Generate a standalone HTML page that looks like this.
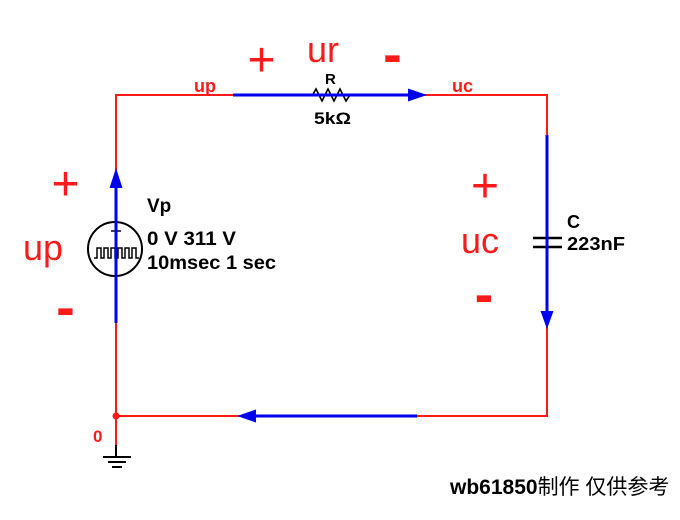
<!DOCTYPE html>
<html>
<head>
<meta charset="utf-8">
<style>
  html, body { margin:0; padding:0; background:#fff; }
  svg { display:block; }
  text { font-family: "Liberation Sans", "Noto Sans CJK SC", sans-serif; }
</style>
</head>
<body>
<svg width="680" height="520" viewBox="0 0 680 520" xmlns="http://www.w3.org/2000/svg">
  <rect width="680" height="520" fill="#fff"/>

  <!-- red circuit wires -->
  <g stroke="#ff1a1a" stroke-width="2" fill="none">
    <line x1="116" y1="95" x2="548" y2="95"/>
    <line x1="547" y1="95" x2="547" y2="417"/>
    <line x1="116" y1="416" x2="548" y2="416"/>
    <line x1="116" y1="94" x2="116" y2="446"/>
  </g>
  <circle cx="116" cy="416" r="3.5" fill="#ff1a1a"/>

  <!-- ground -->
  <g stroke="#000" stroke-width="2">
    <line x1="116" y1="445" x2="116" y2="457"/>
    <line x1="103" y1="457" x2="131" y2="457"/>
    <line x1="108" y1="462" x2="126" y2="462"/>
    <line x1="112" y1="467" x2="122" y2="467"/>
  </g>
  <text x="93" y="442" font-size="17" font-weight="bold" fill="#ff1a1a">0</text>

  <!-- voltage source -->
  <circle cx="115" cy="249" r="27" fill="#fff" stroke="#000" stroke-width="2"/>
  <line x1="111" y1="231" x2="121" y2="231" stroke="#000" stroke-width="1.5"/>
  <path d="M94,258 H97 V248 H101 V258 H104 V248 H108 V258 H111 V248 H115 V258 H118 V248 H122 V258 H125 V248 H129 V258 H132 V248 H136 V258 H139" fill="none" stroke="#000" stroke-width="1.5"/>

  <!-- resistor -->
  <polyline points="312,96 316,89 322,101 328,89 334,101 340,89 346,101 350,95 353,95" fill="none" stroke="#000" stroke-width="1.6"/>

  <!-- capacitor plates -->
  <g stroke="#000" stroke-width="2.5">
    <line x1="533" y1="238" x2="562" y2="238"/>
    <line x1="533" y1="247" x2="562" y2="247"/>
  </g>

  <!-- blue current arrows -->
  <g stroke="#0000ee" stroke-width="3" fill="none">
    <line x1="116" y1="323" x2="116" y2="184"/>
    <line x1="233" y1="95" x2="410" y2="95"/>
    <line x1="547" y1="135" x2="547" y2="314"/>
    <line x1="417" y1="416" x2="253" y2="416"/>
  </g>
  <g fill="#0000ee">
    <polygon points="116,168 109.5,188 122.5,188"/>
    <polygon points="427,95 408,88.5 408,101.5"/>
    <polygon points="547,329 540.5,311 553.5,311"/>
    <polygon points="237,416 256,409.5 256,422.5"/>
  </g>

  <!-- wire labels -->
  <text x="194" y="92" font-size="18" font-weight="bold" fill="#ff1a1a">up</text>
  <text x="452" y="92" font-size="18" font-weight="bold" fill="#ff1a1a">uc</text>

  <!-- component labels -->
  <text x="325" y="84" font-size="15" font-weight="bold" fill="#000">R</text>
  <text x="314" y="124" font-size="17" font-weight="bold" fill="#000" textLength="37" lengthAdjust="spacingAndGlyphs">5kΩ</text>

  <text x="147" y="212" font-size="19" font-weight="bold" fill="#000">Vp</text>
  <text x="147" y="245" font-size="19" font-weight="bold" fill="#000" textLength="89" lengthAdjust="spacingAndGlyphs">0 V 311 V</text>
  <text x="147" y="269" font-size="19" font-weight="bold" fill="#000" textLength="129" lengthAdjust="spacingAndGlyphs">10msec 1 sec</text>

  <text x="567" y="228" font-size="18" font-weight="bold" fill="#000">C</text>
  <text x="567" y="250" font-size="18" font-weight="bold" fill="#000" textLength="58" lengthAdjust="spacingAndGlyphs">223nF</text>

  <!-- big voltage labels -->
  <text x="307" y="62" font-size="36" fill="#ff1a1a">ur</text>
  <text x="23" y="260" font-size="36" fill="#ff1a1a">up</text>
  <text x="461" y="253" font-size="36" fill="#ff1a1a">uc</text>

  <text x="261.5" y="76" font-size="48" fill="#ff1a1a" text-anchor="middle">+</text>
  <text x="65.5" y="200" font-size="48" fill="#ff1a1a" text-anchor="middle">+</text>
  <text x="485" y="202" font-size="48" fill="#ff1a1a" text-anchor="middle">+</text>

  <text x="392.5" y="73" font-size="56" font-weight="bold" fill="#ff1a1a" text-anchor="middle">-</text>
  <text x="65.5" y="326" font-size="56" font-weight="bold" fill="#ff1a1a" text-anchor="middle">-</text>
  <text x="484" y="313" font-size="56" font-weight="bold" fill="#ff1a1a" text-anchor="middle">-</text>

  <!-- watermark -->
  <text x="450" y="494" font-size="21" fill="#000"><tspan font-weight="bold">wb61850</tspan><tspan>制作 仅供参考</tspan></text>
</svg>
</body>
</html>
